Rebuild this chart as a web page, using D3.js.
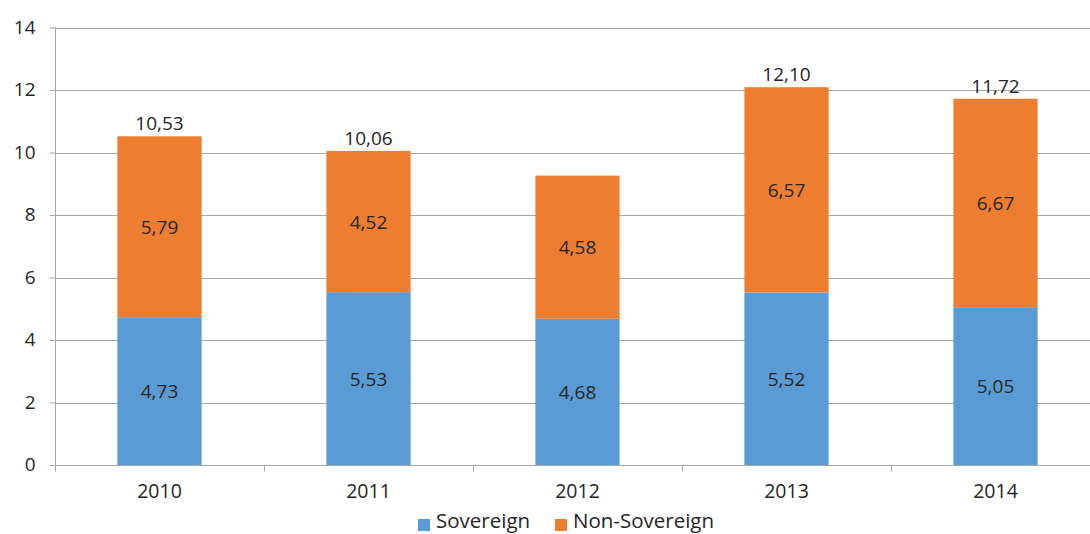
<!DOCTYPE html>
<html><head><meta charset="utf-8">
<script src="https://cdn.jsdelivr.net/npm/d3@7"></script>
<style>body{margin:0;background:#fff}svg{display:block}text{font-family:"Open Sans",sans-serif;fill:#262626}</style>
</head><body><svg id="c" width="1090" height="534"></svg>
<script>
const categories = ["2010","2011","2012","2013","2014"];
const sovereign = [4.73,5.53,4.68,5.52,5.05];
const nonSovereign = [5.79,4.52,4.58,6.57,6.67];
const totals = [10.53,10.06,null,12.10,11.72];
const yTicks = [0,2,4,6,8,10,12,14];
const seriesNames = ["Sovereign","Non-Sovereign"];
const colors = ["#5b9bd5","#ed7d31"];

const svg = d3.select("#c");
const x = d3.scaleBand().domain(categories).range([55,1100]).paddingInner(0.597).paddingOuter(0.2985);
const xb = d3.scaleBand().domain(categories).range([55,1100]);
const y = d3.scaleLinear().domain([0,14]).range([465,27.5]);
const fmt = v => v.toFixed(2).replace(".", ",");

// gridlines
svg.append("g").selectAll("line").data(yTicks.filter(d=>d>0)).join("line")
  .attr("x1",55).attr("x2",1100).attr("y1",d=>Math.round(y(d))+0.5).attr("y2",d=>Math.round(y(d))+0.5)
  .attr("stroke","#a6a6a6").attr("stroke-width",1);

// y axis
const ya = svg.append("g").attr("transform","translate(55.5,0)")
  .call(d3.axisLeft(y).tickValues(yTicks).tickSize(6).tickPadding(14).tickFormat(d3.format("d")));
ya.select(".domain").attr("stroke","#a6a6a6").attr("d","M0,"+y(14)+"V"+y(0));
ya.selectAll(".tick line").attr("stroke","#a6a6a6");
ya.selectAll(".tick text").attr("font-size",19).attr("font-family","Open Sans, sans-serif").attr("fill","#262626").attr("dy","0.3em");

// bars
const stackData = categories.map((c,i)=>({c, s:sovereign[i], n:nonSovereign[i]}));
const stack = d3.stack().keys(["s","n"])(stackData);
svg.append("g").selectAll("g").data(stack).join("g").attr("fill",(d,i)=>colors[i])
  .selectAll("rect").data(d=>d).join("rect")
  .attr("x",d=>x(d.data.c)).attr("width",x.bandwidth())
  .attr("y",d=>y(d[1])).attr("height",d=>y(d[0])-y(d[1]));

// x axis
const xa = svg.append("g").attr("transform","translate(0,465.5)");
xa.append("line").attr("x1",55).attr("x2",1100).attr("stroke","#a6a6a6");
xa.selectAll("line.t").data(d3.range(categories.length+1)).join("line").attr("class","t")
  .attr("x1",d=>Math.round(55+d*xb.step())+0.5).attr("x2",d=>Math.round(55+d*xb.step())+0.5)
  .attr("y1",0).attr("y2",6).attr("stroke","#a6a6a6");
svg.append("g").selectAll("text").data(categories).join("text")
  .attr("x",d=>xb(d)+xb.bandwidth()/2).attr("y",498).attr("text-anchor","middle").attr("font-size",19.5).text(d=>d);

// value labels inside
stack.forEach((s)=>{
  svg.append("g").selectAll("text").data(s).join("text")
    .attr("x",d=>x(d.data.c)+x.bandwidth()/2).attr("y",d=>(y(d[0])+y(d[1]))/2+7)
    .attr("text-anchor","middle").attr("font-size",19).text(d=>fmt(d[1]-d[0]));
});
// totals
svg.append("g").selectAll("text").data(categories.map((c,i)=>({c,t:totals[i],top:sovereign[i]+nonSovereign[i]})).filter(d=>d.t!==null)).join("text")
  .attr("x",d=>x(d.c)+x.bandwidth()/2).attr("y",d=>y(d.top)-6)
  .attr("text-anchor","middle").attr("font-size",19).text(d=>fmt(d.t));

// legend
const lg = svg.append("g");
const lx = [418,555];
seriesNames.forEach((n,i)=>{
  lg.append("rect").attr("x",lx[i]).attr("y",519).attr("width",12).attr("height",12).attr("fill",colors[i]);
  lg.append("text").attr("x",lx[i]+18).attr("y",527.5).attr("font-size",20.5).text(n);
});
</script></body></html>
